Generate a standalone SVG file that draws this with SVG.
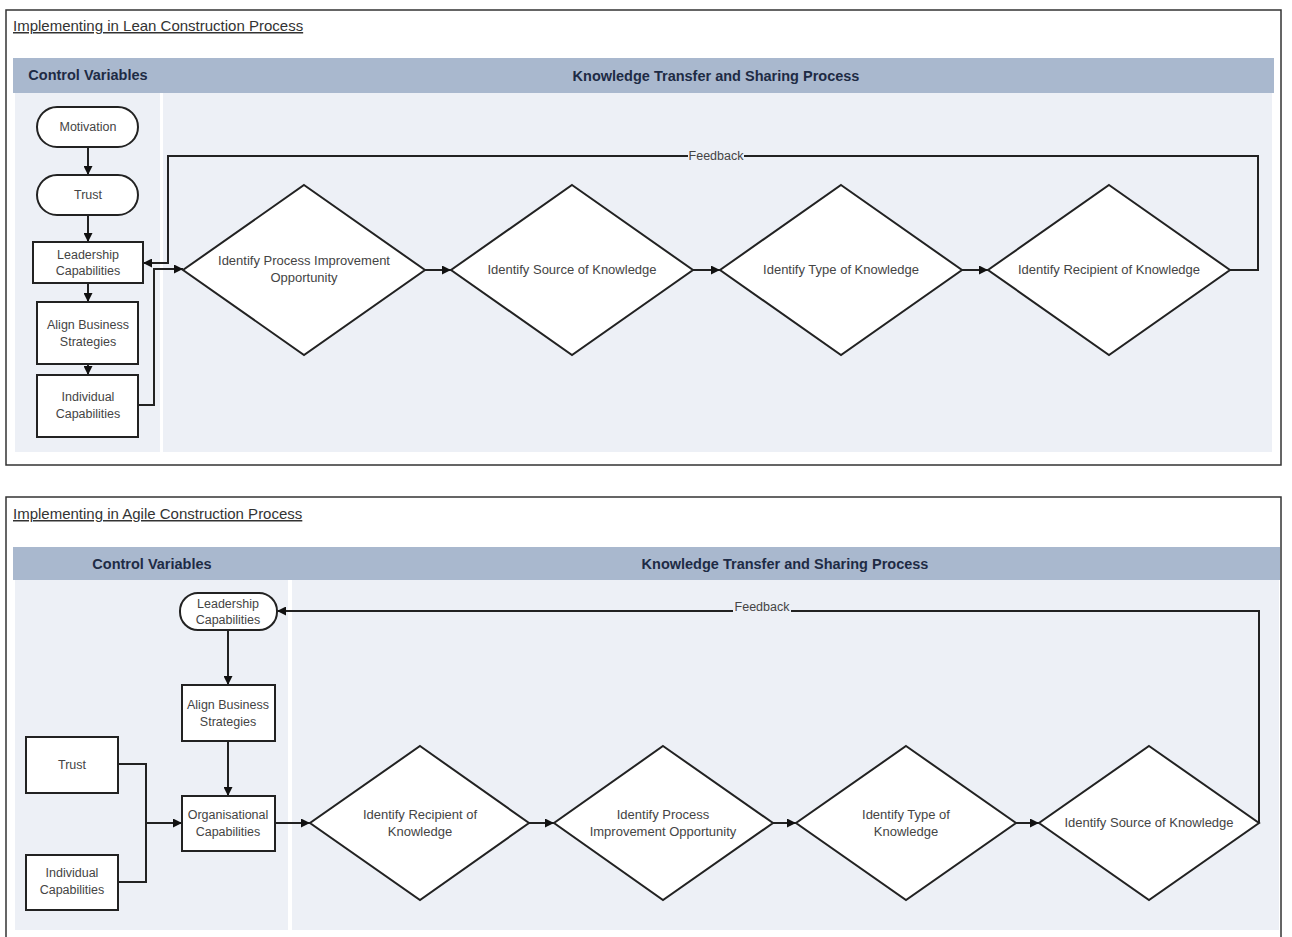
<svg xmlns="http://www.w3.org/2000/svg" width="1292" height="937" viewBox="0 0 1292 937">
<style>
.frame{fill:#fff;stroke:#333;stroke-width:1.5}
.hdr{fill:#a9b8ce}
.body{fill:#edf0f6}
.title{font-family:"Liberation Sans",Arial,sans-serif;font-size:15px;fill:#333;text-decoration:underline}
.htxt{font-family:"Liberation Sans",Arial,sans-serif;font-size:14.5px;font-weight:bold;fill:#1e2b45;text-anchor:middle}
.node{fill:#fff;stroke:#222;stroke-width:2}
.lbl{font-family:"Liberation Sans",Arial,sans-serif;font-size:12.5px;fill:#444;text-anchor:middle}
.dl{font-size:13px}
.con{fill:none;stroke:#222;stroke-width:2}
.fb{font-family:"Liberation Sans",Arial,sans-serif;font-size:12.5px;fill:#444;text-anchor:middle}
</style>
<defs>
<marker id="arr" viewBox="0 0 10 10" refX="10" refY="5" markerWidth="9" markerHeight="9" markerUnits="userSpaceOnUse" orient="auto">
<path d="M0,0 L10,5 L0,10 z" fill="#111"/>
</marker>
</defs>
<rect width="1292" height="937" fill="#fff"/>

<!-- TOP PANEL -->
<g id="panel-lean">
<rect class="frame" x="6" y="10" width="1275" height="455"/>
<text class="title" x="13" y="31">Implementing in Lean Construction Process</text>
<rect class="hdr" x="13" y="58" width="1261" height="35"/>
<rect class="body" x="15" y="93" width="145" height="359"/>
<rect class="body" x="163" y="93" width="1109" height="359"/>
<text class="htxt" x="88" y="80">Control Variables</text>
<text class="htxt" x="716" y="81">Knowledge Transfer and Sharing Process</text>
</g>

<g id="connectors-lean">
<path class="con" d="M88,147 V175" marker-end="url(#arr)"/>
<path class="con" d="M88,215 V242" marker-end="url(#arr)"/>
<path class="con" d="M88,283 V302" marker-end="url(#arr)"/>
<path class="con" d="M88,364 V375" marker-end="url(#arr)"/>
<path class="con" d="M139,405 H154 V269 H183" marker-end="url(#arr)"/>
<path class="con" d="M425,270 H451" marker-end="url(#arr)"/>
<path class="con" d="M693,270 H720" marker-end="url(#arr)"/>
<path class="con" d="M962,270 H988" marker-end="url(#arr)"/>
<path class="con" d="M1230,270 H1258 V156 H168 V263 H143" marker-end="url(#arr)"/>
<rect x="688" y="150" width="56" height="12" fill="#edf0f6"/>
<text class="fb" x="716" y="160">Feedback</text>
</g>

<g id="t-motivation"><rect class="node" x="37" y="107" width="101" height="40" rx="20"/><text class="lbl" x="88" y="131">Motivation</text></g>
<g id="t-trust"><rect class="node" x="37" y="175" width="101" height="40" rx="20"/><text class="lbl" x="88" y="199">Trust</text></g>
<g id="t-leadership"><rect class="node" x="33" y="242" width="110" height="41"/><text class="lbl" x="88" y="259">Leadership</text><text class="lbl" x="88" y="275">Capabilities</text></g>
<g id="t-align"><rect class="node" x="37" y="302" width="101" height="62"/><text class="lbl" x="88" y="329">Align Business</text><text class="lbl" x="88" y="346">Strategies</text></g>
<g id="t-individual"><rect class="node" x="37" y="375" width="101" height="62"/><text class="lbl" x="88" y="401">Individual</text><text class="lbl" x="88" y="418">Capabilities</text></g>

<g id="t-d-process"><polygon class="node" points="304,185 425,270 304,355 183,270"/><text class="lbl dl" x="304" y="265">Identify Process Improvement</text><text class="lbl dl" x="304" y="282">Opportunity</text></g>
<g id="t-d-source"><polygon class="node" points="572,185 693,270 572,355 451,270"/><text class="lbl dl" x="572" y="274">Identify Source of Knowledge</text></g>
<g id="t-d-type"><polygon class="node" points="841,185 962,270 841,355 720,270"/><text class="lbl dl" x="841" y="274">Identify Type of Knowledge</text></g>
<g id="t-d-recipient"><polygon class="node" points="1109,185 1230,270 1109,355 988,270"/><text class="lbl dl" x="1109" y="274">Identify Recipient of Knowledge</text></g>

<!-- BOTTOM PANEL -->
<g id="panel-agile">
<rect class="frame" x="6" y="497" width="1275" height="450"/>
<text class="title" x="13" y="519">Implementing in Agile Construction Process</text>
<rect class="hdr" x="13" y="547" width="1267" height="33"/>
<rect class="body" x="15" y="580" width="273" height="350"/>
<rect class="body" x="292" y="580" width="987" height="350"/>
<text class="htxt" x="152" y="569">Control Variables</text>
<text class="htxt" x="785" y="569">Knowledge Transfer and Sharing Process</text>
</g>

<g id="connectors-agile">
<path class="con" d="M228,630 V685" marker-end="url(#arr)"/>
<path class="con" d="M228,741 V796" marker-end="url(#arr)"/>
<path class="con" d="M118,764 H146 V882 H118"/>
<path class="con" d="M146,823 H182" marker-end="url(#arr)"/>
<path class="con" d="M275,823 H310" marker-end="url(#arr)"/>
<path class="con" d="M529,823 H554" marker-end="url(#arr)"/>
<path class="con" d="M773,823 H796" marker-end="url(#arr)"/>
<path class="con" d="M1016,823 H1039" marker-end="url(#arr)"/>
<path class="con" d="M1259,823 V611 H277" marker-end="url(#arr)"/>
<rect x="733" y="602" width="58" height="12" fill="#edf0f6"/>
<text class="fb" x="762" y="611">Feedback</text>
</g>

<g id="b-leadership"><rect class="node" x="180" y="593" width="97" height="37" rx="18"/><text class="lbl" x="228" y="608">Leadership</text><text class="lbl" x="228" y="624">Capabilities</text></g>
<g id="b-align"><rect class="node" x="182" y="685" width="93" height="56"/><text class="lbl" x="228" y="709">Align Business</text><text class="lbl" x="228" y="726">Strategies</text></g>
<g id="b-org"><rect class="node" x="182" y="796" width="93" height="55"/><text class="lbl" x="228" y="819">Organisational</text><text class="lbl" x="228" y="836">Capabilities</text></g>
<g id="b-trust"><rect class="node" x="26" y="737" width="92" height="56"/><text class="lbl" x="72" y="769">Trust</text></g>
<g id="b-individual"><rect class="node" x="26" y="855" width="92" height="55"/><text class="lbl" x="72" y="877">Individual</text><text class="lbl" x="72" y="894">Capabilities</text></g>

<g id="b-d-recipient"><polygon class="node" points="420,746 529,823 420,900 310,823"/><text class="lbl dl" x="420" y="819">Identify Recipient of</text><text class="lbl dl" x="420" y="836">Knowledge</text></g>
<g id="b-d-process"><polygon class="node" points="663,746 773,823 663,900 554,823"/><text class="lbl dl" x="663" y="819">Identify Process</text><text class="lbl dl" x="663" y="836">Improvement Opportunity</text></g>
<g id="b-d-type"><polygon class="node" points="906,746 1016,823 906,900 796,823"/><text class="lbl dl" x="906" y="819">Identify Type of</text><text class="lbl dl" x="906" y="836">Knowledge</text></g>
<g id="b-d-source"><polygon class="node" points="1149,746 1259,823 1149,900 1039,823"/><text class="lbl dl" x="1149" y="827">Identify Source of Knowledge</text></g>
</svg>
